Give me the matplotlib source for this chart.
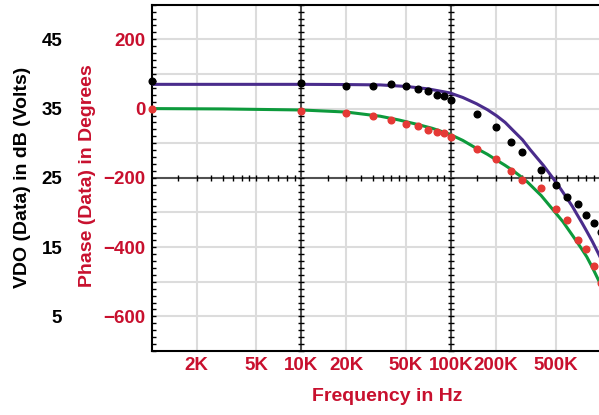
import matplotlib
matplotlib.use("Agg")
import matplotlib.pyplot as plt
from matplotlib.ticker import FixedLocator, MultipleLocator, NullFormatter

plt.rcParams['font.family'] = ['Liberation Sans', 'DejaVu Sans']
plt.rcParams['font.weight'] = 'bold'

RED_TXT = '#c8102e'

# measured points
freq_pts = [1e3, 10e3, 20e3, 30e3, 40e3, 50e3, 60e3, 70e3, 80e3, 90e3, 100e3,
            150e3, 200e3, 250e3, 300e3, 400e3, 500e3, 600e3, 700e3, 800e3, 900e3, 1e6]
vdo_db = [39.0, 38.7, 38.33, 38.33, 38.48, 38.23, 37.9, 37.6, 37.03, 36.83, 36.3,
          34.2, 32.4, 30.2, 28.7, 26.2, 24.0, 22.3, 21.2, 19.6, 18.5, 17.2]
phase_deg = [0, -7.5, -12.4, -22.8, -34, -44.5, -51.5, -62, -67, -70, -82,
             -116, -145, -180, -205.5, -229, -289, -323, -380, -404.5, -453.5, -504]

# model curves
vdo_fit_f = [1e3, 10e3, 20e3, 33.6e3, 50e3, 70e3, 98e3, 120e3, 148e3, 175e3, 202e3,
             230e3, 261e3, 300e3, 337e3, 375e3, 414e3, 445e3, 482e3, 540e3, 602e3,
             650e3, 691e3, 750e3, 806e3, 880e3, 964e3, 1e6]
vdo_fit_db = [38.5, 38.5, 38.47, 38.42, 38.2, 37.85, 37.27, 36.6, 35.7, 34.84, 33.95,
              33.0, 31.8, 30.5, 29.1, 27.9, 26.8, 25.9, 24.9, 23.4, 21.9,
              20.8, 19.8, 18.5, 17.3, 15.8, 14.1, 13.4]
ph_fit_f = [1e3, 3e3, 10e3, 20e3, 33.6e3, 45e3, 60e3, 75e3, 98e3, 120e3, 148e3,
            175e3, 202e3, 230e3, 261e3, 290e3, 323e3, 400e3, 482e3, 560e3, 657e3,
            730e3, 807e3, 880e3, 966e3, 1e6]
ph_fit_deg = [0, -1, -4, -10, -22, -33, -46, -57, -74, -92, -115,
              -132, -149, -164, -180, -195, -211.5, -251, -293, -327, -370,
              -399, -428, -459, -495, -509]

xtick_vals = [2e3, 5e3, 1e4, 2e4, 5e4, 1e5, 2e5, 5e5]
xtick_text = ['2K', '5K', '10K', '20K', '50K', '100K', '200K', '500K']
ph_ticks = [200, 0, -200, -400, -600]
db_ticks = [45, 35, 25, 15, 5]

fig = plt.figure(figsize=(5.99, 4.15), dpi=100)
ax = fig.add_axes([151.7 / 599, 64 / 415, 449 / 599, 346.3 / 415])
ax.set_xscale('log')
ax.set_xlim(1e3, 1e6)
ax.set_ylim(-700, 300)

# grid
for f in [2e3, 5e3, 2e4, 5e4, 2e5, 5e5]:
    ax.axvline(f, color='#dcdcdc', lw=1.5, zorder=0)
for p in [200, 100, 0, -100, -300, -400, -500, -600]:
    ax.axhline(p, color='#dcdcdc', lw=1.5, zorder=0)
ax.axvline(1e4, color='#505050', lw=1.5, zorder=1)
ax.axvline(1e5, color='#505050', lw=1.5, zorder=1)
ax.axhline(-200, color='#505050', lw=1.5, zorder=1)

# small ticks on the crosshair lines
yy = list(range(-700, 301, 20))
for f in [1e4, 1e5]:
    ax.plot([f] * len(yy), yy, ls='none', marker='_', ms=5, mew=1, color='k', zorder=1.5, clip_on=False)
mf = [m * d for d in [1e3, 1e4, 1e5] for m in [1.5, 2, 2.5, 3, 3.5, 4, 4.5, 5, 6, 7, 8, 9]]
ax.plot(mf, [-200] * len(mf), ls='none', marker='|', ms=5, mew=1, color='k', zorder=1.5)

ax.plot(ph_fit_f, ph_fit_deg, color='#0d9a3c', lw=2.2, zorder=2, clip_on=False)
ax.plot(freq_pts, phase_deg, 'o', color='#e53935', ms=4.8, zorder=3, clip_on=False)

ax.xaxis.set_major_locator(FixedLocator(xtick_vals))
ax.set_xticklabels(xtick_text)
ax.xaxis.set_minor_formatter(NullFormatter())
ax.tick_params(axis='x', which='both', length=0, pad=4, labelsize=13.5, labelcolor=RED_TXT)

ax.set_yticks(ph_ticks)
ax.set_yticklabels([str(v).replace('-', '\u2212') for v in ph_ticks])
ax.yaxis.set_minor_locator(MultipleLocator(20))
ax.tick_params(axis='y', which='both', direction='in', length=3, width=1, color='k')
ax.tick_params(axis='y', which='major', pad=4.3, labelsize=13.5, labelcolor=RED_TXT)

for s in ax.spines.values():
    s.set_linewidth(1.5)
    s.set_color('k')

# dB axis
ax2 = ax.twinx()
ax2.set_ylim(0, 50)
ax2.set_xlim(1e3, 1e6)
ax2.plot(vdo_fit_f, vdo_fit_db, color='#4a2c8c', lw=2.2, zorder=2, clip_on=True)
ax2.plot(freq_pts, vdo_db, 'o', color='k', ms=4.8, zorder=3, clip_on=False)
ax2.yaxis.tick_left()
ax2.set_yticks(db_ticks)
ax2.set_yticklabels([str(v) for v in db_ticks])
ax2.tick_params(axis='y', which='both', length=0, pad=64.4, labelsize=13.5, labelcolor='k')
ax2.yaxis.set_minor_locator(FixedLocator([]))
for s in ax2.spines.values():
    s.set_visible(False)

fig.text(22.5 / 599, 1 - 177.5 / 415, 'VDO (Data) in dB (Volts)', rotation=90,
         ha='center', va='center', fontsize=14, color='k', fontweight='bold')
fig.text(88 / 599, 1 - 176 / 415, 'Phase (Data) in Degrees', rotation=90,
         ha='center', va='center', fontsize=14, color=RED_TXT, fontweight='bold')
fig.text(387 / 599, 1 - 396.7 / 415, 'Frequency in Hz', ha='center', va='center',
         fontsize=14, color=RED_TXT, fontweight='bold')

fig.savefig('out.png', dpi=100)
